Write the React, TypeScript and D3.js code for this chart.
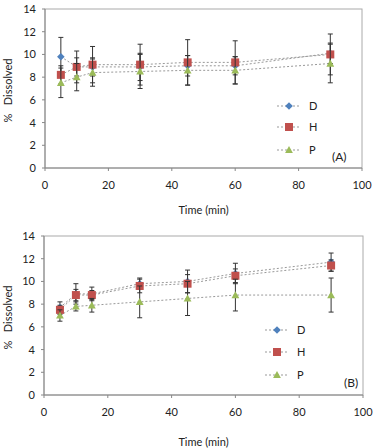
import React from "react";
import * as d3 from "d3";

const times = [5, 10, 15, 30, 45, 60, 90];
const seriesNames = ["D", "H", "P"];
const xTicks = [0, 20, 40, 60, 80, 100];
const yTicks = [0, 2, 4, 6, 8, 10, 12, 14];

const aD = [9.8, 8.9, 8.9, 8.9, 9.0, 9.0, 10.1];
const aH = [8.2, 8.9, 9.1, 9.1, 9.3, 9.3, 10.0];
const aP = [7.5, 8.0, 8.4, 8.5, 8.6, 8.6, 9.2];
const aDErr = [1.7, 0.8, 0.8, 1.2, 0.9, 0.8, 0.9];
const aHErr = [0.8, 1.4, 1.6, 1.8, 2.0, 1.9, 1.8];
const aPErr = [1.3, 1.2, 1.2, 1.5, 1.3, 1.2, 1.7];

const bD = [7.7, 8.9, 8.9, 9.8, 10.0, 10.7, 11.7];
const bH = [7.5, 8.8, 8.8, 9.6, 9.8, 10.5, 11.4];
const bP = [7.0, 7.8, 7.9, 8.2, 8.5, 8.8, 8.8];
const bDErr = [0.5, 0.9, 0.6, 0.5, 1.0, 0.9, 0.8];
const bHErr = [0.4, 0.5, 0.4, 0.6, 0.8, 0.6, 0.5];
const bPErr = [0.5, 0.4, 0.6, 1.4, 1.5, 1.4, 1.5];

const colors = ["#4F81BD", "#C0504D", "#9BBB59"];
const FONT = "Lato, 'Open Sans', sans-serif";

function Marker({ i, x, y }: { i: number; x: number; y: number }) {
  if (i === 0) {
    const s = 3.8;
    return <path d={`M${x},${y - s}L${x + s},${y}L${x},${y + s}L${x - s},${y}Z`} fill={colors[0]} />;
  }
  if (i === 1) {
    const s = 4;
    return <rect x={x - s} y={y - s} width={2 * s} height={2 * s} fill={colors[1]} />;
  }
  const s = 3.9;
  return <path d={`M${x},${y - s}L${x + s},${y + s * 0.8}L${x - s},${y + s * 0.8}Z`} fill={colors[2]} />;
}

function Panel(props: {
  left: number; right: number; top: number; bottom: number;
  values: number[][]; errs: number[][]; tag: string;
  legX: number; legY: number[]; tagX: number; tagY: number; titleY: number;
}) {
  const { left, right, top, bottom, values, errs, tag, legX, legY, tagX, tagY, titleY } = props;
  const x = d3.scaleLinear().domain([0, 100]).range([left, right]);
  const y = d3.scaleLinear().domain([0, 14]).range([bottom, top]);
  const line = d3.line<number>().x((_, i) => x(times[i])).y((v) => y(v));
  return (
    <g fontFamily={FONT}>
      <rect x={left} y={top} width={right - left} height={bottom - top} fill="none" stroke="#aaa" strokeWidth={1} />
      <line x1={left} x2={left} y1={top} y2={bottom} stroke="#888" />
      <line x1={left} x2={right} y1={bottom} y2={bottom} stroke="#888" />
      {yTicks.map((t) => (
        <g key={"y" + t}>
          <line x1={left - 3} x2={left} y1={y(t)} y2={y(t)} stroke="#888" />
          <text x={left - 9} y={y(t)} dy="0.36em" textAnchor="end" fontSize={11} fill="#222">{t}</text>
        </g>
      ))}
      {xTicks.map((t) => (
        <g key={"x" + t}>
          <line x1={x(t)} x2={x(t)} y1={bottom} y2={bottom + 3} stroke="#888" />
          <text x={x(t)} y={bottom + 21} textAnchor="middle" fontSize={11} fill="#222">{t}</text>
        </g>
      ))}
      <text x={(left + right) / 2} y={titleY} textAnchor="middle" fontSize={11} fill="#222">Time (min)</text>
      <text transform={`translate(12,${(top + bottom) / 2 + 2}) rotate(-90)`} textAnchor="middle" fontSize={11} fill="#222" style={{ whiteSpace: "pre" }}>{"%   Dissolved"}</text>
      {values.map((vals, si) => (
        <path key={"l" + si} d={line(vals) || ""} fill="none" stroke="#999" strokeWidth={1} strokeDasharray="2,2" />
      ))}
      {values.map((vals, si) => (
        <g key={"s" + si}>
          {vals.map((v, i) => {
            const cx = x(times[i]);
            const y1 = y(v + errs[si][i]);
            const y2 = y(v - errs[si][i]);
            return (
              <g key={i} stroke="#333" strokeWidth={1}>
                <line x1={cx} x2={cx} y1={y1} y2={y2} />
                <line x1={cx - 2.5} x2={cx + 2.5} y1={y1} y2={y1} />
                <line x1={cx - 2.5} x2={cx + 2.5} y1={y2} y2={y2} />
              </g>
            );
          })}
          {vals.map((v, i) => (
            <Marker key={"m" + i} i={si} x={x(times[i])} y={y(v)} />
          ))}
        </g>
      ))}
      {seriesNames.map((n, si) => (
        <g key={"lg" + n}>
          <line x1={legX} x2={legX + 24} y1={legY[si]} y2={legY[si]} stroke="#999" strokeDasharray="2,2" />
          <Marker i={si} x={legX + 12} y={legY[si]} />
          <text x={legX + 32} y={legY[si]} dy="0.36em" fontSize={11} fill="#222">{n}</text>
        </g>
      ))}
      <text x={tagX} y={tagY} fontSize={12} fill="#222">{tag}</text>
    </g>
  );
}

export default function App() {
  return (
    <svg width={382} height={448} style={{ position: "absolute", left: 0, top: 0, background: "#fff" }}>
      <rect width={382} height={448} fill="#fff" />
      <Panel left={45} right={362} top={9} bottom={168}
        values={[aD, aH, aP]} errs={[aDErr, aHErr, aPErr]} tag="(A)"
        legX={277} legY={[106, 127, 150]} tagX={332} tagY={161} titleY={214} />
      <Panel left={44} right={363} top={236} bottom={395}
        values={[bD, bH, bP]} errs={[bDErr, bHErr, bPErr]} tag="(B)"
        legX={265} legY={[330, 352, 375]} tagX={344} tagY={387} titleY={446} />
    </svg>
  );
}
